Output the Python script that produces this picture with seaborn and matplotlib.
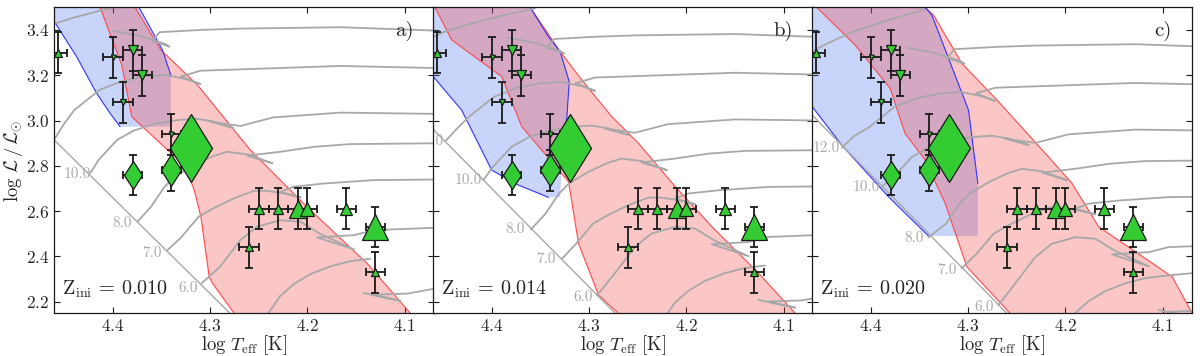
import numpy as np
import pandas as pd
import matplotlib
matplotlib.use("Agg")
import matplotlib.pyplot as plt
import seaborn as sns


# observed stars (same in all three panels)
star_teff = [4.457, 4.40, 4.38, 4.37, 4.39, 4.34, 4.38, 4.34, 4.32, 4.25, 4.23, 4.21, 4.20, 4.16, 4.13, 4.26, 4.13]
star_lum = [3.30, 3.28, 3.31, 3.20, 3.08, 2.94, 2.76, 2.78, 2.88, 2.61, 2.61, 2.61, 2.61, 2.61, 2.53, 2.44, 2.33]
star_marker = ['^', 'v', 'v', 'v', 'v', 'v', 'd', 'd', 'd', '^', '^', '^', '^', '^', '^', '^', '^']
star_size = [6, 3.6, 7.7, 6.7, 4.8, 3.6, 14.5, 16.8, 35, 7.7, 7.7, 12.7, 9.6, 8.4, 19.4, 5.3, 6.2]
teff_err = 0.01
lum_err = 0.09

panel_z = ["0.010", "0.014", "0.020"]
panel_tag = ["a)", "b)", "c)"]

# ZAMS lines
zams = [
    ([4.465, 4.2725], [2.933, 2.119]),
    ([4.4657, 4.2664], [2.983, 2.119]),
    ([4.4663, 4.2533], [3.049, 2.119]),
]

# mass labels on the ZAMS
mass_text = [
    ["10.0", "8.0", "7.0", "6.0"],
    ["12.0", "10.0", "8.0", "7.0", "6.0"],
    ["12.0", "10.0", "8.0", "7.0", "6.0"],
]
mass_x = [
    [4.437, 4.391, 4.360, 4.323],
    [4.464, 4.424, 4.376, 4.345, 4.306],
    [4.446, 4.405, 4.356, 4.322, 4.284],
]
mass_y = [
    [2.764, 2.549, 2.413, 2.258],
    [2.907, 2.737, 2.519, 2.387, 2.222],
    [2.877, 2.705, 2.479, 2.339, 2.178],
]

# evolutionary tracks
tracks_a = [
    ([4.466, 4.440, 4.409, 4.372], [3.42, 3.455, 3.49, 3.525]),
    ([4.400, 4.372, 4.346, 4.342, 4.360, 4.352, 4.310, 4.269, 4.166, 4.06],
     [3.396, 3.373, 3.338, 3.326, 3.352, 3.390, 3.400, 3.406, 3.412, 3.396]),
    ([4.461, 4.450, 4.440, 4.414, 4.392, 4.368, 4.345, 4.324, 4.310, 4.330, 4.310, 4.269, 4.166, 4.06],
     [2.914, 2.988, 3.046, 3.135, 3.172, 3.194, 3.201, 3.182, 3.161, 3.195, 3.220, 3.226, 3.241, 3.231]),
    ([4.423, 4.415, 4.396, 4.379, 4.358, 4.334, 4.314, 4.297, 4.276, 4.300, 4.269, 4.235, 4.166, 4.06],
     [2.770, 2.826, 2.914, 2.955, 2.985, 3.002, 3.008, 2.996, 2.967, 2.995, 2.976, 3.014, 3.035, 3.029]),
    ([4.375, 4.361, 4.347, 4.337, 4.317, 4.297, 4.283, 4.262, 4.236, 4.262, 4.228, 4.193, 4.156, 4.06],
     [2.553, 2.619, 2.708, 2.752, 2.803, 2.843, 2.862, 2.851, 2.811, 2.845, 2.862, 2.884, 2.896, 2.900]),
    ([4.344, 4.330, 4.312, 4.297, 4.276, 4.255, 4.242, 4.224, 4.207, 4.228, 4.214, 4.183, 4.132, 4.06],
     [2.428, 2.484, 2.575, 2.612, 2.656, 2.690, 2.690, 2.678, 2.661, 2.685, 2.708, 2.722, 2.737, 2.740]),
    ([4.309, 4.290, 4.269, 4.252, 4.228, 4.207, 4.187, 4.152, 4.190, 4.152, 4.132, 4.06],
     [2.281, 2.354, 2.472, 2.531, 2.560, 2.553, 2.500, 2.431, 2.484, 2.494, 2.516, 2.528]),
    ([4.245, 4.228, 4.214, 4.197, 4.176, 4.156, 4.135], [2.119, 2.225, 2.278, 2.322, 2.357, 2.379, 2.390]),
    ([4.142, 4.125, 4.104, 4.132, 4.097, 4.06], [2.239, 2.222, 2.204, 2.231, 2.236, 2.265]),
]

tracks_b = [
    ([4.47, 4.450, 4.424, 4.393, 4.356], [3.35, 3.39, 3.425, 3.46, 3.495]),
    ([4.384, 4.356, 4.330, 4.326, 4.344, 4.336, 4.294, 4.253, 4.150, 4.044],
     [3.366, 3.343, 3.308, 3.296, 3.322, 3.360, 3.370, 3.376, 3.382, 3.366]),
    ([4.448, 4.436, 4.424, 4.398, 4.376, 4.352, 4.329, 4.308, 4.294, 4.314, 4.294, 4.253, 4.150, 4.044],
     [2.909, 2.965, 3.016, 3.105, 3.142, 3.164, 3.171, 3.152, 3.131, 3.165, 3.190, 3.196, 3.211, 3.201]),
    ([4.409, 4.399, 4.380, 4.363, 4.342, 4.318, 4.298, 4.281, 4.260, 4.284, 4.253, 4.219, 4.150, 4.044],
     [2.737, 2.796, 2.884, 2.925, 2.955, 2.972, 2.978, 2.966, 2.937, 2.965, 2.946, 2.984, 3.005, 2.999]),
    ([4.360, 4.345, 4.331, 4.321, 4.301, 4.281, 4.267, 4.246, 4.220, 4.246, 4.212, 4.177, 4.140, 4.044],
     [2.519, 2.589, 2.678, 2.722, 2.773, 2.813, 2.832, 2.821, 2.781, 2.815, 2.832, 2.854, 2.866, 2.870]),
    ([4.328, 4.314, 4.296, 4.281, 4.260, 4.239, 4.226, 4.208, 4.191, 4.212, 4.198, 4.167, 4.116, 4.044],
     [2.390, 2.454, 2.545, 2.582, 2.626, 2.660, 2.660, 2.648, 2.631, 2.655, 2.678, 2.692, 2.707, 2.710]),
    ([4.292, 4.274, 4.253, 4.236, 4.212, 4.191, 4.171, 4.136, 4.174, 4.136, 4.116, 4.044],
     [2.228, 2.324, 2.442, 2.501, 2.530, 2.523, 2.470, 2.401, 2.454, 2.464, 2.486, 2.498]),
    ([4.229, 4.212, 4.198, 4.181, 4.160, 4.140, 4.119], [2.089, 2.195, 2.248, 2.292, 2.327, 2.349, 2.360]),
    ([4.126, 4.109, 4.088, 4.116, 4.081, 4.044], [2.209, 2.192, 2.174, 2.201, 2.206, 2.235]),
]

tracks_c = [
    ([4.47, 4.45, 4.42, 4.385, 4.345], [3.28, 3.33, 3.39, 3.44, 3.49]),
    ([4.362, 4.334, 4.308, 4.304, 4.322, 4.314, 4.272, 4.231, 4.128, 4.022],
     [3.321, 3.298, 3.263, 3.251, 3.277, 3.315, 3.325, 3.331, 3.337, 3.321]),
    ([4.430, 4.418, 4.402, 4.376, 4.354, 4.330, 4.307, 4.286, 4.272, 4.292, 4.272, 4.231, 4.128, 4.022],
     [2.880, 2.930, 2.971, 3.060, 3.097, 3.119, 3.126, 3.107, 3.086, 3.120, 3.145, 3.151, 3.166, 3.156]),
    ([4.389, 4.377, 4.358, 4.341, 4.320, 4.296, 4.276, 4.259, 4.238, 4.262, 4.231, 4.197, 4.128, 4.022],
     [2.708, 2.751, 2.839, 2.880, 2.910, 2.927, 2.933, 2.921, 2.892, 2.920, 2.901, 2.939, 2.960, 2.954]),
    ([4.341, 4.323, 4.309, 4.299, 4.279, 4.259, 4.245, 4.224, 4.198, 4.224, 4.190, 4.155, 4.118, 4.022],
     [2.484, 2.544, 2.633, 2.677, 2.728, 2.768, 2.787, 2.776, 2.736, 2.770, 2.787, 2.809, 2.821, 2.825]),
    ([4.307, 4.292, 4.274, 4.259, 4.238, 4.217, 4.204, 4.186, 4.169, 4.190, 4.176, 4.145, 4.094, 4.022],
     [2.347, 2.409, 2.500, 2.537, 2.581, 2.615, 2.615, 2.603, 2.586, 2.610, 2.633, 2.647, 2.662, 2.665]),
    ([4.269, 4.252, 4.231, 4.214, 4.190, 4.169, 4.149, 4.114, 4.152, 4.114, 4.094, 4.022],
     [2.185, 2.279, 2.397, 2.456, 2.485, 2.478, 2.425, 2.356, 2.409, 2.419, 2.441, 2.453]),
    ([4.207, 4.190, 4.176, 4.159, 4.138, 4.118, 4.097, 4.06], [2.044, 2.150, 2.203, 2.247, 2.282, 2.304, 2.315, 2.33]),
    ([4.104, 4.087, 4.066, 4.094, 4.059], [2.164, 2.147, 2.129, 2.156, 2.161]),
]

# blue region outline
blue_x = [
    [4.4746, 4.4605, 4.4375, 4.4169, 4.4031, 4.3928, 4.3406, 4.3406, 4.3492, 4.3681, 4.3777],
    [4.476, 4.476, 4.4605, 4.4313, 4.4004, 4.3729, 4.3419, 4.3299, 4.3282, 4.3230, 4.3206, 4.3299, 4.3419, 4.3608, 4.366],
    [4.475, 4.475, 4.4605, 4.4303, 4.3822, 4.3409, 4.2901, 4.2901, 4.2997, 4.3375, 4.3444, 4.3471],
]
blue_y = [
    [3.5325, 3.437, 3.282, 3.120, 3.032, 2.973, 2.973, 3.201, 3.312, 3.459, 3.533],
    [3.5325, 3.267, 3.194, 3.046, 2.781, 2.715, 2.661, 2.661, 2.826, 3.017, 3.172, 3.304, 3.370, 3.500, 3.5325],
    [3.5325, 3.135, 3.061, 2.892, 2.664, 2.490, 2.490, 2.722, 3.046, 3.466, 3.500, 3.5325],
]
# which outline pieces carry a drawn blue edge (start, stop)
blue_edges = [
    [(0, 6), (7, 11)],
    [(2, 7), (8, 15)],
    [(2, 6), (7, 12)],
]

# red region outline
red_x = [
    [4.4162, 4.3911, 4.3808, 4.3440, 4.3268, 4.3165, 4.3096, 4.3011, 4.2976, 4.2753, 4.2704,
     4.0887, 4.0938, 4.1385, 4.2004, 4.2588, 4.3131, 4.3509, 4.3773, 4.3818],
    [4.4629, 4.4588, 4.4416, 4.3901, 4.3694, 4.3213, 4.3110, 4.2904, 4.2698, 4.2629,
     4.0815, 4.0877, 4.1255, 4.1736, 4.2114, 4.2492, 4.2767, 4.3076, 4.3299, 4.3608, 4.366],
    [4.4612, 4.4560, 4.4165, 4.3804, 4.3650, 4.3444, 4.3237, 4.3014, 4.2568, 4.2516,
     4.0660, 4.0694, 4.0900, 4.1657, 4.1931, 4.2206, 4.2705, 4.3066, 4.3358, 4.3444, 4.3471],
]
red_y = [
    [3.5325, 3.245, 3.017, 2.870, 2.811, 2.693, 2.575, 2.310, 2.281, 2.148, 2.119,
     2.119, 2.148, 2.369, 2.619, 2.870, 3.157, 3.312, 3.500, 3.5325],
    [3.5325, 3.500, 3.356, 3.194, 2.973, 2.730, 2.457, 2.229, 2.148, 2.119,
     2.119, 2.148, 2.325, 2.531, 2.708, 2.899, 3.017, 3.179, 3.304, 3.500, 3.5325],
    [3.5325, 3.500, 3.334, 3.142, 2.943, 2.826, 2.634, 2.354, 2.148, 2.119,
     2.119, 2.148, 2.310, 2.531, 2.722, 2.855, 3.091, 3.253, 3.466, 3.500, 3.5325],
]

all_tracks = [tracks_a, tracks_b, tracks_c]

TRACK_C = "#a8a8a8"
GREEN = "#33cc33"

sns.set_theme(style="ticks")
plt.rcParams['font.family'] = ['cmr10', 'DejaVu Serif']
plt.rcParams['mathtext.fontset'] = 'cm'
plt.rcParams['axes.formatter.use_mathtext'] = True
plt.rcParams['axes.unicode_minus'] = False
plt.rcParams['xtick.direction'] = 'in'
plt.rcParams['ytick.direction'] = 'in'
plt.rcParams['xtick.top'] = True
plt.rcParams['ytick.right'] = True

fig = plt.figure(figsize=(12, 3.56), dpi=100)

ax_w = 379.4 / 1200
ax_b = 42.7 / 356
ax_h = 306.0 / 356
lefts = [54.3 / 1200, 433.3 / 1200, 812.3 / 1200]

for i in range(3):
    ax = fig.add_axes([lefts[i], ax_b, ax_w, ax_h])

    # shaded regions
    ax.fill(blue_x[i], blue_y[i], color=(0.25, 0.4, 0.95), alpha=0.28, lw=0, zorder=1)
    ax.fill(red_x[i], red_y[i], color=(0.95, 0.2, 0.2), alpha=0.28, lw=0, zorder=1.1)
    ax.plot(red_x[i] + [red_x[i][0]], red_y[i] + [red_y[i][0]], color="#ff4a4a", lw=0.8, zorder=1.2)
    for s, e in blue_edges[i]:
        ax.plot(blue_x[i][s:e], blue_y[i][s:e], color="#3333ff", lw=0.8, zorder=1.2)

    # tracks
    for tx, ty in all_tracks[i]:
        sns.lineplot(x=tx, y=ty, sort=False, estimator=None, color=TRACK_C, lw=1.3, ax=ax, zorder=2)
    ax.plot(zams[i][0], zams[i][1], color=TRACK_C, lw=1.0, zorder=2)
    for t, mx, my in zip(mass_text[i], mass_x[i], mass_y[i]):
        ax.text(mx, my, t, color="#aaaaaa", fontsize=11, ha='center', va='center', clip_on=True, zorder=2.5)

    # stars
    ax.errorbar(star_teff, star_lum, xerr=teff_err, yerr=lum_err, fmt='none', ecolor='k',
                elinewidth=1.3, capsize=2.8, capthick=1.3, zorder=5)
    for x, y, m, s in zip(star_teff, star_lum, star_marker, star_size):
        ax.plot(x, y, marker=m, ms=s, mfc=GREEN, mec='k', mew=0.9, ls='none', zorder=6)

    ax.set_xlim(4.4605, 4.07)
    ax.set_ylim(2.149, 3.50)
    ax.set_xticks([4.4, 4.3, 4.2, 4.1])
    ax.set_yticks([2.2, 2.4, 2.6, 2.8, 3.0, 3.2, 3.4])
    ax.tick_params(axis='both', which='major', length=4, width=0.8, labelsize=12.5, color='k')
    for sp in ax.spines.values():
        sp.set_color('k')
        sp.set_linewidth(0.9)
    if i > 0:
        ax.set_yticklabels([])

    ax.set_xlabel(r"$\log\,T_{\rm eff}$ [K]", fontsize=13.5)
    ax.xaxis.set_label_coords(0.5, -0.065)
    if i == 0:
        ax.set_ylabel(r"$\log\,\mathcal{L}\,/\,\mathcal{L}_{\odot}$", fontsize=13.5)
        ax.yaxis.set_label_coords(-0.077, 0.5)

    ax.text(0.02, 0.06, "Z$_{\\rm ini}$ = " + panel_z[i], transform=ax.transAxes,
            fontsize=14.5, ha='left', va='baseline', zorder=7)
    ax.text(0.947, 0.905, panel_tag[i], transform=ax.transAxes,
            fontsize=15, ha='right', va='baseline', zorder=7)

fig.savefig("out.png", dpi=100)
